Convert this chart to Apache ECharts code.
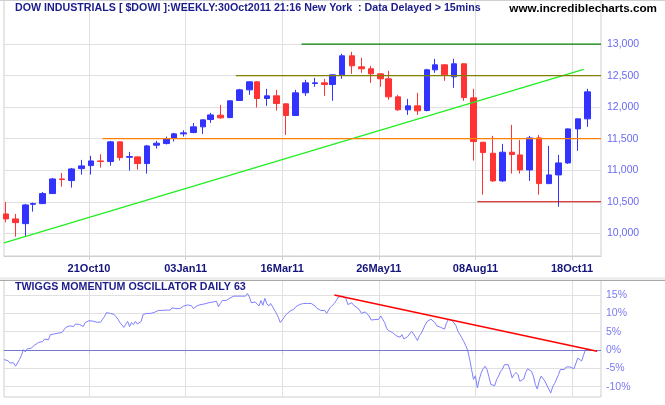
<!DOCTYPE html>
<html><head><meta charset="utf-8">
<script src="https://cdn.jsdelivr.net/npm/echarts@6/dist/echarts.min.js"></script>
<style>html,body{margin:0;padding:0;background:#fff}#c{width:665px;height:405px}</style>
</head><body><div id="c"></div>
<script>
// ---------- data ----------
const firstDay = '2010-08-19';
const lastDay = '2011-11-08';
const holidays = ['2010-09-06','2010-11-25','2010-12-24','2011-01-17','2011-02-21','2011-04-22','2011-05-30','2011-07-04','2011-09-05'];
const firstWeekEnding = '2010-08-20';
const tickLabels = ['21Oct10','03Jan11','16Mar11','26May11','08Aug11','18Oct11'];
const priceTicks = [10000,10500,11000,11500,12000,12500,13000];
const oscTicks = [-10,-5,0,5,10,15];

const candleOpen  = [10307,10228,10153,10460,10471,10630,10862,10836,11026,11074,11148,11138,11450,11206,11212,11106,11397,11423,11503,11577,11598,11688,11804,11873,11836,12106,12275,12402,12138,12180,12053,11868,12228,12376,12386,12360,12513,12815,12640,12609,12529,12450,12164,11958,12021,11947,12593,12672,12482,12688,12148,11444,11270,10831,11286,11243,11005,11513,10788,10926,11116,11656,11815];
const candleClose = [10228,10169,10450,10471,10630,10862,10852,11021,11069,11148,11138,11450,11201,11217,11106,11386,11429,11503,11577,11593,11688,11799,11878,11831,12101,12275,12402,12138,12180,12058,11868,12228,12386,12386,12360,12513,12815,12656,12609,12529,12450,12164,11958,12021,11942,12593,12672,12513,12688,12153,11455,11280,10831,11286,11249,11005,11513,10788,10926,11116,11656,11815,12243];
const candleLow   = [10175,9947,9958,10344,10466,10630,10741,10725,10931,10931,11042,11074,11153,10995,11011,10947,11344,11410,11455,11534,11587,11577,11751,11815,11825,12100,12196,11995,12021,11947,11561,11860,12180,12323,12180,12101,12450,12529,12545,12386,12323,12116,11942,11878,11878,11935,12545,12418,12307,12101,11153,10614,10815,10815,10947,10947,10831,10614,10780,10423,11100,11307,11688];
const candleHigh  = [10497,10307,10466,10487,10656,10878,10958,11037,11164,11228,11254,11466,11455,11291,11220,11402,11466,11534,11593,11635,11751,11805,11910,12037,12110,12291,12410,12410,12291,12275,12060,12275,12434,12466,12450,12520,12847,12878,12783,12656,12535,12577,12196,12132,12228,12608,12767,12680,12767,12695,12291,11450,11545,11418,11720,11481,11545,11561,11386,11243,11662,11820,12291];

// daily oscillator (%), one value per trading day from firstDay
const oscillator = [
-2.6,-2.7,-2.9,-3.5,-3.1,-3.5,-4.4,-4.2,-2.6,-1.5,
0.1,-0.5,0.3,0.1,0.5,1.0,1.4,1.9,2.1,2.6,
2.3,3.0,3.5,2.8,4.2,4.6,4.4,4.8,4.6,4.3,
4.8,4.4,6.2,6.2,6.6,6.5,6.4,7.1,7.3,7.0,
7.5,6.4,7.5,7.9,8.0,8.0,7.9,7.7,7.6,7.6,
7.6,8.4,9.1,10.2,10.3,10.0,9.8,9.7,9.1,8.4,
7.5,7.8,6.2,6.4,7.8,6.4,7.5,6.9,7.8,7.1,
6.6,7.8,9.7,10.0,10.0,10.0,10.0,10.3,10.3,10.7,
10.8,10.9,10.8,11.1,10.9,11.3,10.9,11.5,11.5,11.3,
11.5,11.3,11.5,12.0,12.0,12.3,12.1,12.1,11.3,11.8,
12.1,
11.8,12.4,12.3,12.6,12.4,12.9,12.7,13.1,13.4,13.3,
11.8,12.7,13.5,13.6,13.5,13.6,14.2,14.5,14.7,14.7,
14.7,14.5,14.7,14.9,14.7,15.4,14.5,12.9,12.4,13.1,
12.6,12.0,13.5,12.2,14.1,12.7,12.0,12.7,12.4,10.9,
10.0,8.9,7.5,8.2,8.9,9.7,10.2,10.6,10.9,11.1,
11.8,11.8,12.4,12.6,12.7,12.7,12.7,12.7,12.7,12.3,
12.0,11.4,10.9,10.8,10.9,10.8,10.0,10.9,11.7,12.0,
12.7,13.5,14.4,14.7,14.7,14.5,14.0,12.4,12.6,12.9,
12.2,12.4,11.5,10.9,10.0,9.8,10.4,10.2,9.3,8.2,
8.4,8.3,8.3,8.4,9.3,8.4,7.5,6.0,5.3,5.1,
4.8,5.1,3.9,3.7,3.5,4.2,3.0,3.5,3.7,4.2,
5.1,4.4,3.5,2.6,3.9,4.6,5.7,6.9,7.8,7.9,
8.4,8.7,7.5,6.6,6.4,6.2,6.6,5.7,7.3,8.4,
7.9,8.0,7.5,6.6,5.1,4.2,3.3,2.3,1.2,-0.1,
-2.4,-5.3,-8.0,-7.0,-10.3,-8.0,-6.2,-5.1,-4.4,-5.3,
-7.3,-9.4,-9.8,-9.7,-8.0,-7.1,-5.8,-5.2,-4.0,-3.7,
-4.0,-5.6,-7.6,-6.7,-6.1,-6.7,-8.5,-8.2,-7.9,-6.2,
-5.1,-4.6,-5.8,-7.1,-9.4,-10.6,-8.5,-7.1,-7.8,-8.5,
-8.7,-10.7,-11.7,-10.0,-9.1,-7.9,-6.7,-5.3,-5.5,-5.3,
-4.6,-4.2,-4.6,-5.1,-5.1,-4.6,-2.2,-2.6,-3.0,-1.3,
0.1,0.3
];

// drawn lines: start/end dates and values
const trendDates = ['2010-08-19','2011-10-26'];
const trendValues = [9848,12600];
const levelValues = [13000,12500,11500,10500];
const levelStart = ['2011-03-30','2011-02-09','2010-11-01','2011-08-09'];
const levelColors = ['#008000','#808000','#ff8000','#d00000'];
const oscTrendDates = ['2011-04-25','2011-11-04'];
const oscTrendValues = [15.0,-0.3];

const titleText = 'DOW INDUSTRIALS [ $DOWI ]:WEEKLY:30Oct2011 21:16 New York  : Data Delayed > 15mins';
const siteText = 'www.incrediblecharts.com';
const oscTitle = 'TWIGGS MOMENTUM OSCILLATOR DAILY 63';

// ---------- build trading-day scale ----------
const DAY = 86400000;
const iso = t => new Date(t).toISOString().slice(0,10);
const hol = new Set(holidays);
const days = [];
for (let t = Date.parse(firstDay + 'T00:00:00Z'); t <= Date.parse(lastDay + 'T00:00:00Z'); t += DAY) {
  const wd = new Date(t).getUTCDay();
  const s = iso(t);
  if (wd === 0 || wd === 6 || hol.has(s)) continue;
  days.push(s);
}
const dayIndex = {};
days.forEach((d, i) => dayIndex[d] = i);
const MON = ['Jan','Feb','Mar','Apr','May','Jun','Jul','Aug','Sep','Oct','Nov','Dec'];
const fmt = d => d.slice(8,10) + MON[+d.slice(5,7)-1] + d.slice(2,4);
const labelIdx = {};
days.forEach((d, i) => { const f = fmt(d); if (tickLabels.includes(f)) labelIdx[f] = i; });
const tickIdx = tickLabels.map(l => labelIdx[l]);
const idxLabel = {};
tickLabels.forEach(l => idxLabel[labelIdx[l]] = l);

const lastTradingOnOrBefore = t => { while (dayIndex[iso(t)] === undefined) t -= DAY; return dayIndex[iso(t)]; };
const wk0 = Date.parse(firstWeekEnding + 'T00:00:00Z');
const candles = candleOpen.map((o, k) => [lastTradingOnOrBefore(wk0 + 7*k*DAY), o, candleClose[k], candleLow[k], candleHigh[k]]);

const N = days.length;
const FONT = 'Liberation Sans, Arial, sans-serif';
const GRID = '#e0e0e0';
const BORDER = '#cfcfcf';

const lineSeries = (data, color, width) => ({
  type: 'line', xAxisIndex: 0, yAxisIndex: 0, data, symbol: 'none', silent: true,
  lineStyle: { color, width }, z: 4
});

const series = [
  {
    type: 'candlestick', xAxisIndex: 0, yAxisIndex: 0, data: candles, barWidth: 6,
    encode: { x: 0, y: [1, 2, 3, 4] },
    itemStyle: { color: '#3333ff', color0: '#ff3333', borderColor: '#3333ff', borderColor0: '#ff3333', borderWidth: 1 },
    z: 3
  },
  lineSeries(trendDates.map((d, j) => [dayIndex[d], trendValues[j]]), '#22ee22', 1.3)
];
levelValues.forEach((v, j) => series.push(lineSeries([[dayIndex[levelStart[j]], v], [N - 1, v]], levelColors[j], 1.2)));
series.push({
  type: 'line', xAxisIndex: 1, yAxisIndex: 1, data: oscillator.map((v, i) => [i, v]),
  symbol: 'none', silent: true, lineStyle: { color: '#7f7fff', width: 1 }, z: 4,
  markLine: { silent: true, symbol: ['none', 'none'], label: { show: false },
    lineStyle: { color: '#7777cc', width: 1.2, type: 'solid' }, data: [{ yAxis: 0 }] }
});
series.push({
  type: 'line', xAxisIndex: 1, yAxisIndex: 1, data: oscTrendDates.map((d, j) => [dayIndex[d], oscTrendValues[j]]),
  symbol: 'none', silent: true, lineStyle: { color: '#ff0000', width: 1.5 }, z: 5
});

const chart = echarts.init(document.getElementById('c'), null, { renderer: 'canvas' });
chart.setOption({
  animation: false,
  backgroundColor: '#ffffff',
  textStyle: { fontFamily: FONT },
  grid: [
    { left: 4, right: 64, top: 0, height: 256, show: true, borderColor: BORDER, borderWidth: 1 },
    { left: 4, right: 64, top: 280, height: 117, show: true, borderColor: BORDER, borderWidth: 1 }
  ],
  xAxis: [
    { type: 'value', gridIndex: 0, min: 0, max: N - 1,
      axisLine: { show: true, lineStyle: { color: BORDER } },
      axisTick: { show: true, customValues: tickIdx, length: 4, lineStyle: { color: BORDER } },
      axisLabel: { customValues: tickIdx, formatter: v => idxLabel[v] || '', color: '#14147a', fontWeight: 'bold', fontSize: 11, fontFamily: FONT, margin: 7 },
      splitLine: { show: true, lineStyle: { color: GRID } } },
    { type: 'value', gridIndex: 1, min: 0, max: N - 1,
      axisLine: { show: true, lineStyle: { color: BORDER } },
      axisTick: { show: true, customValues: tickIdx, length: 4, lineStyle: { color: BORDER } },
      axisLabel: { show: false, customValues: tickIdx },
      splitLine: { show: true, lineStyle: { color: GRID } } }
  ],
  yAxis: [
    { type: 'value', gridIndex: 0, position: 'right', min: 9640, max: 13700,
      axisLine: { show: false },
      axisTick: { show: false, customValues: priceTicks },
      axisLabel: { customValues: priceTicks, formatter: v => String(v).replace(/\B(?=(\d{3})+(?!\d))/g, ','), color: '#6a6af2', fontSize: 10.5, fontFamily: FONT, margin: 6 },
      splitLine: { show: true, lineStyle: { color: GRID } } },
    { type: 'value', gridIndex: 1, position: 'right', min: -12.8, max: 19.1,
      axisLine: { show: false },
      axisTick: { show: false, customValues: oscTicks },
      axisLabel: { customValues: oscTicks, formatter: v => v + '%', color: '#7a7af2', fontSize: 10.5, fontFamily: FONT, margin: 5 },
      splitLine: { show: true, lineStyle: { color: GRID } } }
  ],
  graphic: [
    { type: 'rect', shape: { x: 0, y: 277, width: 665, height: 3 }, style: { fill: '#eeeeee' }, silent: true },
    { type: 'line', shape: { x1: 0, y1: 280.5, x2: 665, y2: 280.5 }, style: { stroke: '#a8a8a8', lineWidth: 1 }, silent: true, z: 10 },
    { type: 'line', shape: { x1: 0, y1: 0.5, x2: 665, y2: 0.5 }, style: { stroke: '#d0d0d0', lineWidth: 1 }, silent: true, z: 10 },
    { type: 'text', x: 15, y: 3, z: 20, style: { text: titleText, fill: '#1c1c8c', font: 'bold 10.7px ' + FONT, textVerticalAlign: 'top' } },
    { type: 'text', x: 657, y: 3, z: 20, style: { text: siteText, fill: '#000000', font: 'bold 11.7px ' + FONT, textAlign: 'right', textVerticalAlign: 'top' } },
    { type: 'text', x: 15, y: 282, z: 20, style: { text: oscTitle, fill: '#1c1c8c', font: 'bold 10.7px ' + FONT, textVerticalAlign: 'top' } }
  ],
  series
});
</script></body></html>
